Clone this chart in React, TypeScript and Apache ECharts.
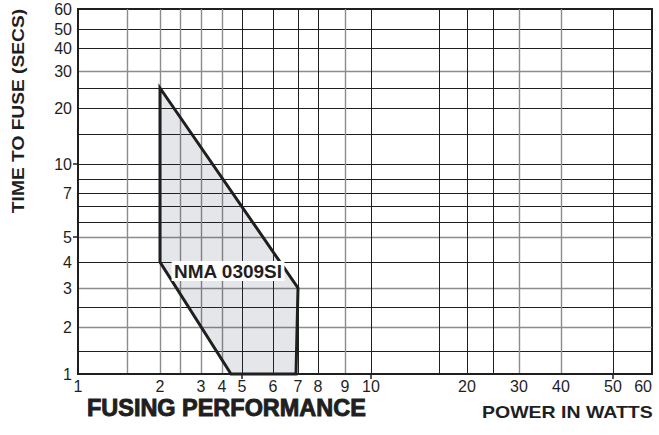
import React, { useEffect, useRef } from "react";
import * as echarts from "echarts";

// The printed chart uses a hand-drawn, non-uniform scale on both axes.
// Each value below is paired with its place on that scale (scale units from the axis origin).
const X_SCALE_VALUES = [1, 1.5, 2, 2.5, 3, 4, 5, 6, 7, 8, 9, 10, 15, 20, 25, 30, 40, 50, 60];
const X_SCALE_UNITS = [0, 49, 82, 102, 123, 144, 164, 195, 220, 240, 267, 293, 361, 389, 415, 441, 483, 535, 574];
const Y_SCALE_VALUES = [1, 1.5, 2, 2.5, 3, 4, 5, 5.5, 6, 7, 8, 10, 15, 20, 25, 30, 40, 50, 60];
const Y_SCALE_UNITS = [0, 23, 47, 67, 86, 112, 137, 152, 168, 181, 195, 210, 240, 266, 286, 303, 326, 345, 365];

// Tick labels
const X_TICK_LABELS = [1, 2, 3, 4, 5, 6, 7, 8, 9, 10, 20, 30, 40, 50, 60];
const Y_TICK_LABELS = [1, 2, 3, 4, 5, 7, 10, 20, 30, 40, 50, 60];

// Grid lines (light and dark as printed) and the outer tick marks
const X_GRID_LIGHT = [1.5, 2, 2.5, 3, 4, 9, 30, 40];
const X_GRID_DARK = [5, 6, 7, 8, 10, 15, 20, 25, 50];
const Y_GRID_LIGHT = [2, 3, 5, 30];
const Y_GRID_DARK = [1.5, 2.5, 4, 5.5, 6, 7, 8, 10, 15, 20, 25, 40, 50];
const X_MAJOR_TICKS = [5, 10, 50];
const Y_MAJOR_TICKS = [5, 10];

// Fusing zone (power in watts, time to fuse in seconds)
const ZONE_WATTS = [2, 7, 6.92, 4.45, 2];
const ZONE_SECS = [25, 3, 1, 1, 4];
const ZONE_NAME = "NMA 0309SI";
const ZONE_LABEL_WATTS = 4.3;
const ZONE_LABEL_SECS = 3.65;

const X_MAX = X_SCALE_UNITS[X_SCALE_UNITS.length - 1];
const Y_MAX = Y_SCALE_UNITS[Y_SCALE_UNITS.length - 1];

function toUnits(v: number, vals: number[], units: number[]): number {
  if (v <= vals[0]) return units[0];
  for (let i = 1; i < vals.length; i++) {
    if (v <= vals[i]) {
      const t = (v - vals[i - 1]) / (vals[i] - vals[i - 1]);
      return units[i - 1] + t * (units[i] - units[i - 1]);
    }
  }
  return units[units.length - 1];
}
const fx = (v: number) => toUnits(v, X_SCALE_VALUES, X_SCALE_UNITS);
const fy = (v: number) => toUnits(v, Y_SCALE_VALUES, Y_SCALE_UNITS);

function labelFor(u: number, ticks: number[], f: (v: number) => number): string {
  let best = ticks[0];
  let bd = Infinity;
  for (const t of ticks) {
    const d = Math.abs(f(t) - u);
    if (d < bd) {
      bd = d;
      best = t;
    }
  }
  return String(best);
}

const INK = "#1f1f1f";
const LIGHT = "#8c8c8c";
const FONT = '"Liberation Sans", Arial, Helvetica, sans-serif';

export default function App() {
  const ref = useRef<HTMLDivElement>(null);

  useEffect(() => {
    if (!ref.current) return;
    const chart = echarts.init(ref.current, undefined, { renderer: "svg" });

    const hiddenAxis = (dim: "x" | "y", max: number, values: number[], dark: boolean, tick: boolean) => ({
      type: "value",
      min: 0,
      max,
      position: dim === "x" ? "bottom" : "left",
      axisLine: { show: false },
      axisLabel: { show: false },
      axisTick: {
        show: tick,
        inside: false,
        length: 5,
        customValues: values,
        lineStyle: { color: INK, width: 1.5 },
      },
      splitLine: tick
        ? { show: false }
        : { show: true, lineStyle: { color: dark ? INK : LIGHT, width: dark ? 1 : 1.4 } },
    });

    const option: any = {
      animation: false,
      backgroundColor: "#ffffff",
      grid: {
        left: 78,
        top: 9,
        width: X_MAX,
        height: Y_MAX,
        containLabel: false,
        outerBoundsMode: "none",
        show: true,
        borderColor: INK,
        borderWidth: 2,
        backgroundColor: "transparent",
      },
      xAxis: [
        {
          type: "value",
          min: 0,
          max: X_MAX,
          position: "bottom",
          axisLine: { show: true, lineStyle: { color: INK, width: 2 } },
          axisTick: { show: false, customValues: X_GRID_LIGHT.map(fx) },
          splitLine: { show: true, lineStyle: { color: LIGHT, width: 1.4 } },
          axisLabel: {
            customValues: X_TICK_LABELS.map(fx),
            formatter: (u: number) => labelFor(u, X_TICK_LABELS, fx),
            color: INK,
            fontSize: 16,
            fontFamily: FONT,
            margin: 4,
            showMinLabel: true,
            showMaxLabel: true,
            alignMaxLabel: "right",
          },
        },
        hiddenAxis("x", X_MAX, X_GRID_DARK.map(fx), true, false),
        hiddenAxis("x", X_MAX, X_MAJOR_TICKS.map(fx), true, true),
      ],
      yAxis: [
        {
          type: "value",
          min: 0,
          max: Y_MAX,
          position: "left",
          axisLine: { show: true, lineStyle: { color: INK, width: 2 } },
          axisTick: { show: false, customValues: Y_GRID_LIGHT.map(fy) },
          splitLine: { show: true, lineStyle: { color: LIGHT, width: 1.4 } },
          axisLabel: {
            customValues: Y_TICK_LABELS.map(fy),
            formatter: (u: number) => labelFor(u, Y_TICK_LABELS, fy),
            color: INK,
            fontSize: 16,
            fontFamily: FONT,
            margin: 6,
            padding: [4, 0, 0, 0],
            showMinLabel: true,
            showMaxLabel: true,
          },
        },
        hiddenAxis("y", Y_MAX, Y_GRID_DARK.map(fy), true, false),
        hiddenAxis("y", Y_MAX, Y_MAJOR_TICKS.map(fy), true, true),
      ],
      series: [
        {
          type: "custom",
          coordinateSystem: "cartesian2d",
          xAxisIndex: 0,
          yAxisIndex: 0,
          z: 10,
          data: [[0, 0]],
          renderItem: (_params: any, api: any) => {
            const pts = ZONE_WATTS.map((w, i) => api.coord([fx(w), fy(ZONE_SECS[i])]));
            const lp = api.coord([fx(ZONE_LABEL_WATTS), fy(ZONE_LABEL_SECS)]);
            return {
              type: "group",
              children: [
                {
                  type: "polygon",
                  shape: { points: pts },
                  style: {
                    fill: "rgba(40,50,70,0.12)",
                    stroke: INK,
                    lineWidth: 3,
                    lineJoin: "miter",
                  },
                },
                {
                  type: "text",
                  x: lp[0],
                  y: lp[1],
                  style: {
                    text: ZONE_NAME,
                    fill: INK,
                    font: `bold 19px ${FONT}`,
                    align: "center",
                    verticalAlign: "middle",
                    backgroundColor: "#ffffff",
                    padding: [1, 2, 0, 2],
                  },
                },
              ],
            };
          },
        },
      ],
      graphic: [
        {
          type: "text",
          x: 19,
          y: 111,
          rotation: Math.PI / 2,
          scaleX: 1.2,
          style: {
            text: "TIME TO FUSE (SECS)",
            fill: INK,
            font: `bold 16px ${FONT}`,
            align: "center",
            verticalAlign: "middle",
          },
        },
        {
          type: "text",
          x: 87,
          y: 408,
          scaleX: 1.02,
          style: {
            text: "FUSING PERFORMANCE",
            fill: INK,
            font: `bold 23px ${FONT}`,
            align: "left",
            verticalAlign: "middle",
            stroke: INK,
            lineWidth: 0.9,
          },
        },
        {
          type: "text",
          x: 482,
          y: 413,
          scaleX: 1.22,
          style: {
            text: "POWER IN WATTS",
            fill: INK,
            font: `bold 16px ${FONT}`,
            align: "left",
            verticalAlign: "middle",
          },
        },
      ],
    };

    chart.setOption(option);
    return () => chart.dispose();
  }, []);

  return (
    <div
      ref={ref}
      style={{ position: "fixed", left: 0, top: 0, width: 659, height: 435, background: "#ffffff" }}
    />
  );
}
